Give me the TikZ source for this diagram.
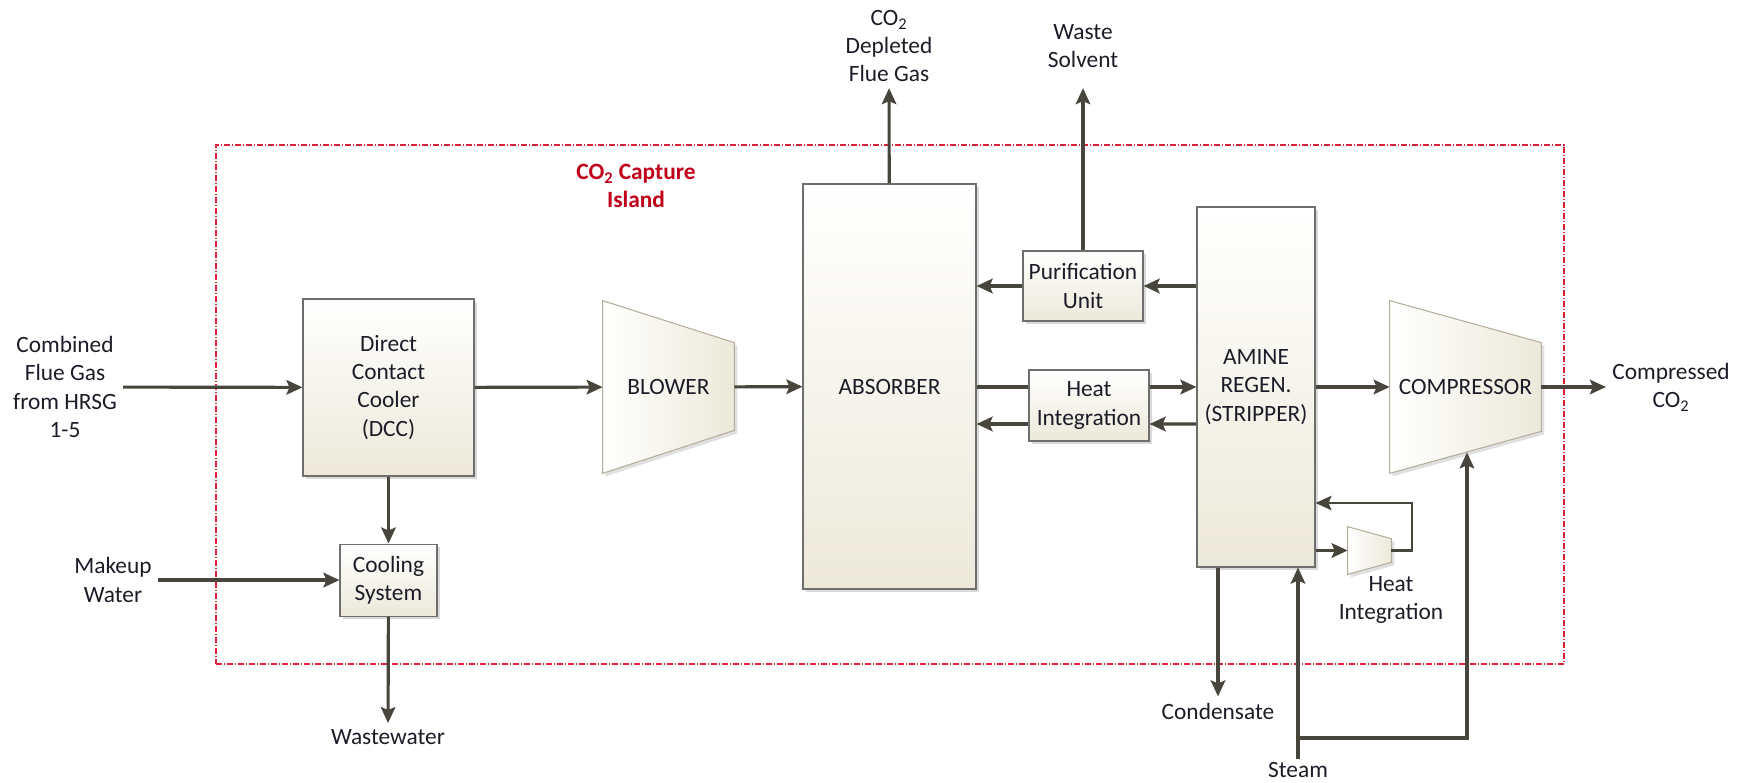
\documentclass[tikz,border=0pt]{standalone}
\usepackage{fontspec}
\setmainfont{Carlito}
\usetikzlibrary{arrows.meta,calc,positioning,shadows,backgrounds}
\definecolor{BoxBeige}{HTML}{ECE9DA}
\definecolor{BoxEdge}{HTML}{6E6E6E}
\definecolor{TrapEdge}{HTML}{B5AE9C}
\definecolor{FlowDark}{HTML}{48453D}
\definecolor{IslandRed}{HTML}{D9223A}
\definecolor{IslandText}{HTML}{C0001A}
\definecolor{TextDark}{HTML}{1C1C28}
\tikzset{
  unitbox/.style={draw=BoxEdge, line width=0.6pt, top color=white, bottom color=BoxBeige, align=center, inner sep=0pt, text=TextDark,
    drop shadow={shadow xshift=0.6mm, shadow yshift=-0.6mm, fill=black, opacity=0.15}},
  trapnode/.style={align=center, inner sep=0pt, text=TextDark},
  trapbox/.style={draw=TrapEdge, line width=0.6pt, left color=white, right color=BoxBeige,
    drop shadow={shadow xshift=0.6mm, shadow yshift=-0.6mm, fill=black, opacity=0.12}},
  streamlbl/.style={align=center, inner sep=1.2mm, text=TextDark},
  islandlbl/.style={align=center, inner sep=1mm, text=IslandText, font=\fontsize{13.3}{16}\selectfont\bfseries},
  islandbox/.style={draw=IslandRed, line width=0.6pt, dash pattern=on 1.2mm off 0.4mm on 0.2mm off 0.4mm},
  flow/.style={-{Stealth[length=3.2mm, width=2.9mm, inset=0.6mm]}, line width=1.8pt, draw=FlowDark},
  flowbold/.style={flow, line width=2.5pt},
  flowline/.style={line width=1.8pt, draw=FlowDark},
  loopflow/.style={flow, line width=1.2pt}
}
\begin{document}
\begin{tikzpicture}[x=0.2mm, y=-0.2mm, font=\fontsize{13.3}{16}\selectfont]
  \useasboundingbox (0,0) rectangle (1745,783);
  \node[islandbox, minimum width=269.6mm, minimum height=103.8mm] (island) at (890,404.5) {};
  \node[islandlbl] (islandtxt) at (636,186) {CO\textsubscript{2} Capture\\Island};
  % process units
  \node[unitbox, minimum width=34.2mm, minimum height=35.4mm] (dcc) at (388.5,387.5) {Direct\\Contact\\Cooler\\(DCC)};
  \node[unitbox, minimum width=19.4mm, minimum height=14.4mm, below=13.4mm of dcc] (cool) {Cooling\\System};
  \node[unitbox, minimum width=34.6mm, minimum height=81mm] (abs) at (889.5,386.5) {ABSORBER};
  \node[unitbox, minimum width=24mm, minimum height=14mm] (purif) at (1083,286) {Purification\\Unit};
  \node[unitbox, minimum width=24mm, minimum height=14.2mm] (hi) at (1089,405.5) {Heat\\Integration};
  \node[unitbox, minimum width=23.6mm, minimum height=72mm] (strip) at (1256,387) {AMINE\\REGEN.\\(STRIPPER)};
  \node[trapnode, minimum width=26.2mm, minimum height=34.4mm] (blower) at (668.5,387) {BLOWER};
  \node[trapnode, minimum width=30.2mm, minimum height=34.4mm] (comp) at (1465.5,387) {COMPRESSOR};
  \node[trapnode, minimum width=8.6mm, minimum height=9.4mm] (hx) at (1369.5,550.5) {};
  \begin{scope}[on background layer]
    \path[trapbox] (blower.north west) -- ($(blower.north east)+(0,42)$) -- ($(blower.south east)+(0,-43)$) -- (blower.south west) -- cycle;
    \path[trapbox] (comp.north west) -- ($(comp.north east)+(0,42)$) -- ($(comp.south east)+(0,-42)$) -- (comp.south west) -- cycle;
    \path[trapbox] (hx.north west) -- ($(hx.north east)+(0,12)$) -- ($(hx.south east)+(0,-12)$) -- (hx.south west) -- cycle;
  \end{scope}
  % stream labels
  \node[streamlbl] (fluein) at (65,387) {Combined\\Flue Gas\\from HRSG\\1-5};
  \node[streamlbl] (makeup) at (113,580) {Makeup\\Water};
  \node[streamlbl] (wwater) at (388,737) {Wastewater};
  \node[streamlbl] (depl) at (889,46) {CO\textsubscript{2}\\Depleted\\Flue Gas};
  \node[streamlbl] (wsolv) at (1083,46) {Waste\\Solvent};
  \node[streamlbl] (ccout) at (1671,387) {Compressed\\CO\textsubscript{2}};
  \node[streamlbl] (cond) at (1218,711) {Condensate};
  \node[streamlbl, inner sep=0.6mm] (steam) at (1298,770) {Steam};
  \node[streamlbl] (hxlbl) at (1391,600) {Heat\\Integration};
  % flows
  \draw[flow] (fluein) -- (dcc);
  \draw[flow] (makeup.east |- cool.west) -- (cool.west);
  \draw[flow] (dcc) -- (cool);
  \draw[flow] (cool) -- (wwater);
  \draw[flow] (dcc) -- (blower);
  \draw[flow] (blower) -- (abs);
  \draw[flow] (abs) -- (depl);
  \draw[flow] (purif) -- (purif |- depl.south);
  \draw[flowbold] (strip.west |- purif) -- (purif);
  \draw[flowbold] (purif) -- (abs.east |- purif);
  \draw[flowline] (abs.east |- strip.west) -- (hi.west |- strip.west);
  \draw[flow] (hi.east |- strip.west) -- (strip.west);
  \draw[flow] ($(strip.west)+(0,37)$) -- ($(hi.east)+(0,18.5)$);
  \draw[flow] ($(hi.west)+(0,18.5)$) -- ($(abs.east)+(0,37.5)$);
  \draw[flow] (strip) -- (comp);
  \draw[flow] (comp) -- (ccout);
  \draw[flow] (cond.north |- strip.south) -- (cond);
  \draw[flow] (steam) -- (steam |- strip.south);
  \coordinate (stjn) at (steam.north |- 0,738);
  \coordinate (comptap) at ($(comp.south)+(1.5,-21)$);
  \draw[flow] (stjn) -| (comptap);
  \draw[flow] (hx.west -| strip.east) -- (hx);
  \draw[loopflow] (hx.east) -- ++(21,0) |- ($(strip.east)+(0,116)$);
\end{tikzpicture}
\end{document}
